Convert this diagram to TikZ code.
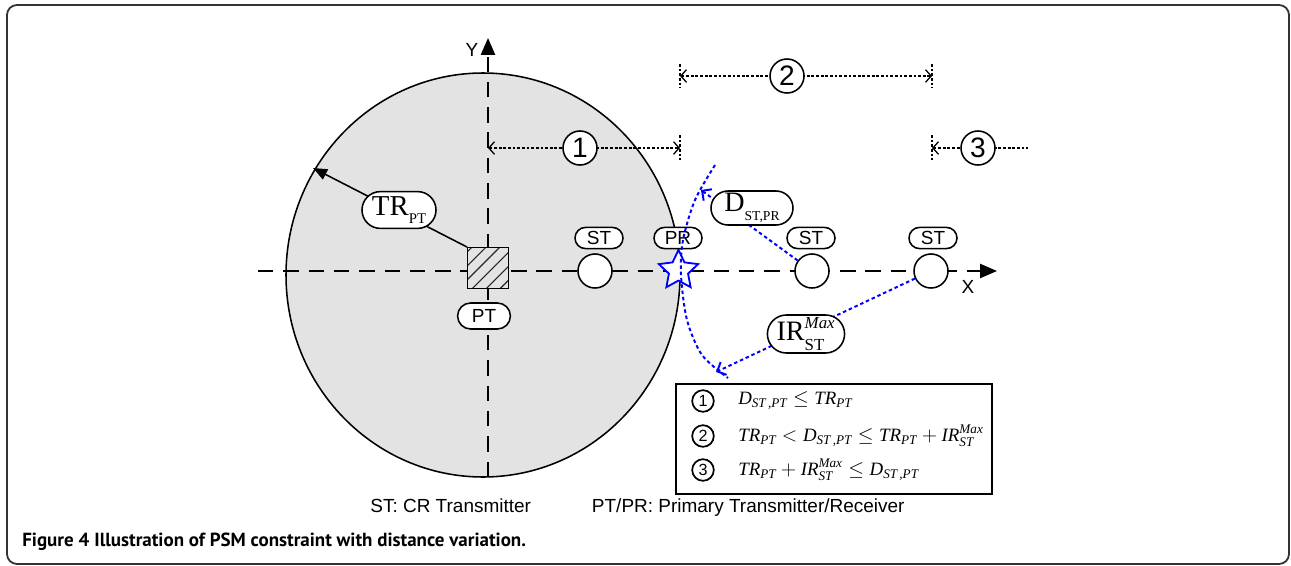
\documentclass[tikz,border=0pt]{standalone}
\usepackage{amsmath}
\usepackage{fontspec}
\setmainfont{Liberation Sans}
\newfontfamily\tnr{Liberation Serif}
\newfontfamily\capfont{PT Sans}
\usetikzlibrary{arrows.meta, shapes.geometric, shapes.misc, patterns.meta}

\newcommand{\tv}[1]{\text{\tnr\itshape #1}}

\begin{document}
\begin{tikzpicture}[x=0.025cm,y=-0.025cm,
  axisline/.style={line width=1.4pt, dash pattern=on 11pt off 7pt},
  pill/.style={rounded rectangle, draw, fill=white, line width=1.1pt, inner sep=0pt},
  smallpill/.style={pill, minimum width=1.2cm, minimum height=0.53cm, font=\fontsize{13.5}{15}\selectfont},
  stnode/.style={circle, draw, fill=white, line width=1.1pt, minimum size=0.85cm, inner sep=0pt},
  dimline/.style={line width=0.9pt, dash pattern=on 2pt off 1.3pt},
  dimtip/.style={{Straight Barb[length=4pt,width=9pt]}-{Straight Barb[length=4pt,width=9pt]}},
  numcirc/.style={circle, draw, fill=white, line width=1.1pt, minimum size=0.85cm, inner sep=0pt, font=\fontsize{20}{22}\selectfont},
  blueline/.style={blue, line width=1.4pt, dash pattern=on 2.5pt off 2pt},
  bluetip/.style={-{Straight Barb[length=5pt,width=10pt]}},
  legcirc/.style={circle, draw, line width=1.2pt, minimum size=0.54cm, inner sep=0pt, font=\fontsize{11.5}{12}\selectfont},
  legtext/.style={anchor=west, inner sep=0pt, font=\fontsize{13.4}{15}\selectfont},
]
\useasboundingbox (0,0) rectangle (1291,566);

% Frame
\draw[line width=1.3pt, black!80, rounded corners=0.25cm] (7,5) rectangle (1289,564);

% Transmission range of PT
\draw[fill=black!11, line width=1.1pt] (483,275) ellipse [x radius=197, y radius=202];

% Coordinate axes
\coordinate (xs) at (258,271);
\coordinate (xe) at (997,271);
\coordinate (ys) at (488,477);
\coordinate (ye) at (488,38);
\draw[axisline, -{Triangle[length=12pt,width=10pt]}] (xs) -- (xe);
\draw[axisline, -{Triangle[length=12pt,width=10pt]}] (ys) -- (ye);
\node[font=\fontsize{13.5}{15}\selectfont] (xlab) at (968,287) {X};
\node[font=\fontsize{13.5}{15}\selectfont] (ylab) at (472,50) {Y};

% Primary transmitter and its range
\node[draw, line width=1.1pt, minimum size=1.02cm, inner sep=0pt,
      preaction={fill=black!11},
      pattern={Lines[angle=45, distance=7pt, line width=0.8pt]}, pattern color=black!85] (pt) at (488,268) {};
\node[pill, minimum width=1.32cm, minimum height=0.65cm, font=\fontsize{13.5}{15}\selectfont] (ptlab) at (484,316) {PT};
\coordinate (trend) at (313,168);
\draw[line width=1.1pt, -{Triangle[length=10pt,width=8pt]}] (pt.north west) -- (trend);
\node[pill, minimum width=1.85cm, minimum height=0.92cm] (trlab) at (399,210)
    {\tnr\fontsize{20.5}{22}\selectfont TR\raisebox{-5.5pt}{\fontsize{10.5}{12}\selectfont PT}};

% CR transmitters and primary receiver
\node[stnode] (st1) at (595,271) {};
\node[stnode] (st2) at (812,271) {};
\node[stnode] (st3) at (931,271) {};
\node[star, star points=5, star point ratio=2.05, minimum size=1.03cm, inner sep=0pt,
      draw=blue, fill=white, line width=1.3pt] (pr) at (678.5,270.5) {};
\node[smallpill] (st1lab) at (599,238) {ST};
\node[smallpill] (prlab) at (678,238) {PR};
\node[smallpill] (st2lab) at (811,238) {ST};
\node[smallpill] (st3lab) at (933,238) {ST};

% Interference range around PR
\draw[blueline] plot[smooth] coordinates {(715,165) (695,200) (683,240) (681,275) (687,320) (702,355) (728,378)};
\coordinate (dtip) at (701,190);
\coordinate (irtip) at (716,372);
\draw[blueline, bluetip] (st2) -- (dtip);
\draw[blueline, bluetip] (st3) -- (irtip);
\node[pill, minimum width=2.05cm, minimum height=0.85cm] (dlab) at (752,208)
    {\tnr\fontsize{20}{22}\selectfont D\raisebox{-6.5pt}{\fontsize{9.7}{11}\selectfont ST,PR}};
\node[pill, minimum width=1.9cm, minimum height=0.95cm] (irlab) at (806,334)
    {\tnr\fontsize{20}{22}\selectfont $\text{IR}^{\raisebox{1pt}{\fontsize{12}{14}\selectfont\itshape Max}}_{\raisebox{-1.5pt}{\fontsize{12}{14}\selectfont ST}}$};

% Distance ranges
\coordinate (d1a) at (488,148);
\coordinate (d1b) at (680,148);
\coordinate (d2a) at (680,76);
\coordinate (d2b) at (932,76);
\coordinate (d3a) at (932,148);
\coordinate (d3b) at (1028,148);
\draw[dimline, dimtip] (d1a) -- (d1b);
\draw[dimline, dimtip] (d2a) -- (d2b);
\draw[dimline, {Straight Barb[length=4pt,width=9pt]}-] (d3a) -- (d3b);
\draw[dimline] (680,135) -- (680,160);
\draw[dimline] (680,64) -- (680,88);
\draw[dimline] (932,64) -- (932,88);
\draw[dimline] (932,135) -- (932,160);
\node[numcirc] (n1) at (580,148) {1};
\node[numcirc] (n2) at (787,76) {2};
\node[numcirc] (n3) at (978,148) {3};

% Legend of conditions
\draw[line width=1.3pt] (676,384) rectangle (992,494);
\node[legcirc] (l1) at (703,401) {1};
\node[legcirc] (l2) at (703,436) {2};
\node[legcirc] (l3) at (703,470) {3};
\node[legtext] (f1) at (738,401) {$\tv{D}_{\tv{ST\,,PT}} \le \tv{TR}_{\tv{PT}}$};
\node[legtext] (f2) at (738,436) {$\tv{TR}_{\tv{PT}} < \tv{D}_{\tv{ST\,,PT}} \le \tv{TR}_{\tv{PT}} + \tv{IR}_{\tv{ST}}^{\tv{Max}}$};
\node[legtext] (f3) at (738,470) {$\tv{TR}_{\tv{PT}} + \tv{IR}_{\tv{ST}}^{\tv{Max}} \le \tv{D}_{\tv{ST\,,PT}}$};

% Key and caption
\node[anchor=base east, font=\fontsize{13.5}{15}\selectfont] (stkey) at (536,512) {ST: CR Transmitter};
\node[anchor=base west, font=\fontsize{13.5}{15}\selectfont] (ptkey) at (587,512) {PT/PR: Primary Transmitter/Receiver};
\node[anchor=base west, inner sep=0pt, font=\capfont\fontsize{13.5}{15}\selectfont] (cap) at (22,546)
    {\textbf{Figure 4} \textbf{Illustration of PSM constraint with distance variation.}};
\end{tikzpicture}
\end{document}
